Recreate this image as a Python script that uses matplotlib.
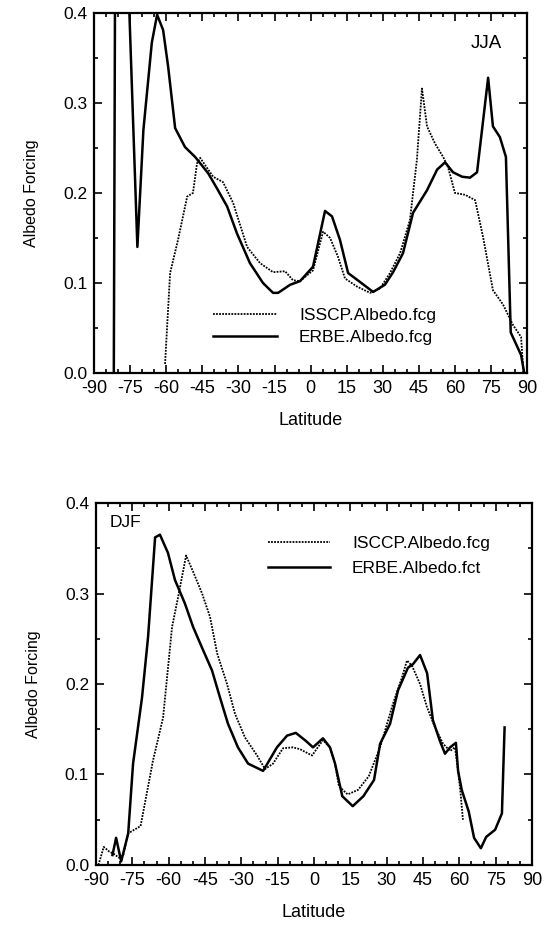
import numpy as np
import matplotlib
matplotlib.use("Agg")
import matplotlib.pyplot as plt
from matplotlib.ticker import MultipleLocator, FormatStrFormatter

# JJA (top panel)
jja_erbe_lat = [-81.8, -80, -77.5, -72, -69.5, -66, -63.8, -61.3, -59.2, -56.3,
                -52.2, -48, -42.6, -38.9, -34.7, -30.6, -25.2, -19.8, -15.6, -13.5,
                -8.5, -4.4, 1.0, 6.0, 8.9, 12.2, 15.6, 20.6, 26.0, 30.9,
                34.3, 38.4, 42.6, 48.4, 52.6, 55.9, 59.2, 63.0, 66.3, 69.2,
                73.8, 75.8, 78.7, 81.2, 83.2, 87.5, 88.8]
jja_erbe_val = [0.0, 1.5, 0.57, 0.14, 0.27, 0.367, 0.398, 0.381, 0.34, 0.272,
                0.251, 0.24, 0.222, 0.205, 0.185, 0.155, 0.122, 0.10, 0.089, 0.089,
                0.098, 0.102, 0.118, 0.18, 0.174, 0.148, 0.111, 0.101, 0.09, 0.098,
                0.112, 0.133, 0.178, 0.203, 0.226, 0.234, 0.223, 0.218, 0.217, 0.223,
                0.328, 0.274, 0.262, 0.24, 0.045, 0.02, 0.0]

jja_isccp_lat = [-60.5, -58.4, -55.1, -51.3, -48.9, -47.2, -45.9, -40.5, -36.4, -32.2,
                 -26.4, -21.0, -15.6, -10.6, -7.3, -4.4, 1.0, 5.2, 8.1, 11.4,
                 14.3, 19.3, 24.7, 28.9, 33.0, 37.2, 41.3, 44.2, 46.3, 48.4,
                 51.7, 55.1, 57.1, 60.0, 64.2, 68.4, 71.7, 75.8, 80.0, 84.2,
                 87.5, 88.5]
jja_isccp_val = [0.01, 0.111, 0.148, 0.196, 0.2, 0.233, 0.239, 0.218, 0.212, 0.189,
                 0.14, 0.122, 0.112, 0.113, 0.103, 0.102, 0.114, 0.157, 0.15, 0.129,
                 0.105, 0.096, 0.089, 0.094, 0.111, 0.133, 0.17, 0.237, 0.316, 0.274,
                 0.255, 0.24, 0.229, 0.2, 0.198, 0.192, 0.151, 0.092, 0.076, 0.053,
                 0.04, 0.0]

# DJF (bottom panel)
djf_erbe_lat = [-83.2, -81.7, -79.6, -76.7, -74.7, -71.0, -68.5, -65.6, -63.6, -60.3,
                -57.4, -53.3, -49.9, -46.2, -42.1, -38.8, -35.5, -31.4, -27.2, -21.0,
                -15.3, -11.1, -7.5, -3.3, -0.4, 3.7, 6.6, 8.7, 11.7, 16.0,
                20.4, 24.8, 27.3, 31.4, 34.7, 38.8, 40.9, 43.8, 46.7, 49.1,
                52.0, 54.1, 56.2, 58.6, 59.5, 61.0, 63.9, 66.1, 68.9, 71.1,
                74.8, 77.6, 78.7]
djf_erbe_val = [0.011, 0.03, 0.004, 0.035, 0.112, 0.185, 0.252, 0.362, 0.365, 0.345,
                0.315, 0.289, 0.263, 0.24, 0.215, 0.185, 0.156, 0.13, 0.112, 0.104,
                0.13, 0.143, 0.146, 0.137, 0.13, 0.14, 0.13, 0.112, 0.076, 0.065,
                0.076, 0.094, 0.134, 0.156, 0.193, 0.218, 0.222, 0.232, 0.212, 0.16,
                0.137, 0.123, 0.13, 0.135, 0.104, 0.083, 0.059, 0.03, 0.0185, 0.031,
                0.039, 0.057, 0.152]

djf_isccp_lat = [-89.0, -86.8, -84.6, -82.5, -80.5, -78.8, -76.7, -71.6, -66.5, -62.3,
                 -58.6, -56.1, -52.8, -49.9, -46.2, -42.9, -40.0, -35.9, -32.6, -28.5,
                 -23.5, -20.2, -16.9, -12.8, -8.7, -5.8, -0.8, 3.7, 6.6, 8.7,
                 10.3, 13.9, 18.2, 22.6, 27.3, 32.6, 36.3, 38.4, 40.5, 43.8,
                 46.7, 50.0, 53.3, 56.2, 58.2, 59.5, 60.5, 61.5]
djf_isccp_val = [0.0, 0.02, 0.015, 0.012, 0.008, 0.01, 0.035, 0.043, 0.115, 0.163,
                 0.263, 0.296, 0.342, 0.324, 0.3, 0.274, 0.234, 0.2, 0.167, 0.141,
                 0.121, 0.106, 0.112, 0.129, 0.13, 0.128, 0.121, 0.138, 0.13, 0.112,
                 0.087, 0.078, 0.083, 0.098, 0.13, 0.178, 0.207, 0.226, 0.22, 0.2,
                 0.174, 0.152, 0.134, 0.126, 0.13, 0.104, 0.08, 0.05]

lat_ticks = list(range(-90, 91, 15))
y_ticks = [0.0, 0.1, 0.2, 0.3, 0.4]

plt.rcParams['font.family'] = ['Liberation Sans', 'DejaVu Sans']
plt.rcParams['axes.unicode_minus'] = False

fig = plt.figure(figsize=(5.47, 9.31), dpi=100)
ax1 = fig.add_axes([0.172, 0.5994, 0.7916, 0.3867])
ax2 = fig.add_axes([0.1755, 0.0709, 0.797, 0.3888])

dot = (0, (1, 0.7))


def style_axes(ax):
    ax.set_xlim(-90, 90)
    ax.set_ylim(0, 0.4)
    ax.set_xticks(lat_ticks)
    ax.set_yticks(y_ticks)
    ax.xaxis.set_minor_locator(MultipleLocator(5))
    ax.yaxis.set_minor_locator(MultipleLocator(0.05))
    ax.yaxis.set_major_formatter(FormatStrFormatter('%.1f'))
    ax.xaxis.set_major_formatter(FormatStrFormatter('%d'))
    ax.tick_params(which='both', direction='in', top=True, right=True,
                   width=1.2, colors='black')
    ax.tick_params(which='major', length=5.5, pad=5)
    ax.tick_params(which='minor', length=3)
    ax.tick_params(axis='x', labelsize=13)
    ax.tick_params(axis='y', labelsize=12.5)
    for s in ax.spines.values():
        s.set_linewidth(1.6)
    ax.set_xlabel("Latitude", fontsize=13, labelpad=11)
    ax.set_ylabel("Albedo Forcing", fontsize=11.5, labelpad=17)


ax1.plot(jja_isccp_lat, jja_isccp_val, color='black', lw=1.3, ls=dot,
         label='ISSCP.Albedo.fcg')
ax1.plot(jja_erbe_lat, jja_erbe_val, color='black', lw=1.8,
         label='ERBE.Albedo.fcg')
style_axes(ax1)
ax1.text(0.942, 0.915, "JJA", transform=ax1.transAxes, ha='right', va='center',
         fontsize=13.5)
ax1.legend(loc='center left', bbox_to_anchor=(0.275, 0.129), frameon=False,
           fontsize=12.5, handlelength=3.7, handletextpad=1.25, labelspacing=0.35,
           borderpad=0, borderaxespad=0)

ax2.plot(djf_isccp_lat, djf_isccp_val, color='black', lw=1.3, ls=dot,
         label='ISCCP.Albedo.fcg')
ax2.plot(djf_erbe_lat, djf_erbe_val, color='black', lw=1.8,
         label='ERBE.Albedo.fct')
style_axes(ax2)
ax2.text(0.032, 0.945, "DJF", transform=ax2.transAxes, ha='left', va='center',
         fontsize=12.5)
ax2.legend(loc='center left', bbox_to_anchor=(0.394, 0.854), frameon=False,
           fontsize=12.5, handlelength=3.6, handletextpad=1.25, labelspacing=0.55,
           borderpad=0, borderaxespad=0)

fig.savefig("out.png", dpi=100)
